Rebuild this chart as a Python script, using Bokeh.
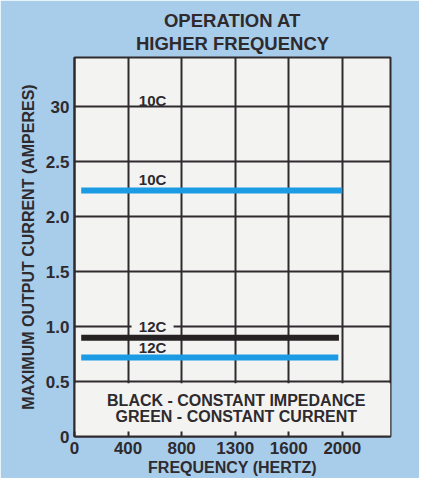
from bokeh.plotting import figure
from bokeh.models import Range1d, FixedTicker, Title
from bokeh.core.properties import value
from bokeh.embed import file_html
from bokeh.resources import INLINE

# ---- data ----
x_ticks = [0, 400, 800, 1200, 1600, 2000]
x_tick_labels = ["0", "400", "800", "1300", "1600", "2000"]
y_ticks = [0, 0.5, 1.0, 1.5, 2.0, 2.5, 3.0]
y_tick_labels = ["0", "0.5", "1.0", "1.5", "2.0", "2.5", "30"]

series_names = ["10C constant current", "12C constant impedance", "12C constant current"]
freq_start = [50, 50, 50]
freq_end = [2000, 1975, 1970]
max_current = [2.24, 0.90, 0.72]

label_texts = ["10C", "10C", "12C", "12C"]
label_freq = [583, 583, 583, 583]
label_current = [3.06, 2.34, 1.0, 0.81]

note_lines = ["BLACK - CONSTANT IMPEDANCE", "GREEN - CONSTANT CURRENT"]
note_freq = [1208, 1208]
note_current = [0.325, 0.18]

title_lines = ["OPERATION AT", "HIGHER FREQUENCY"]

# ---- styles ----
FONT = "Liberation Sans"
INK = "#2e2a2e"
BLUE = "#1a9be3"
BLACK = "#262223"
PANEL = "#f3f3f1"
BG = "#a8cdea"
series_colors = [BLUE, BLACK, BLUE]

p = figure(width=419, height=478, x_range=Range1d(0, 2360), y_range=Range1d(0, 3.45),
           output_backend="svg", toolbar_location=None,
           min_border_left=74, min_border_right=29, min_border_top=57, min_border_bottom=39,
           background_fill_color=PANEL, border_fill_color=BG)

p.outline_line_color = INK
p.outline_line_width = 2
p.outline_line_alpha = 1

p.xgrid.ticker = FixedTicker(ticks=x_ticks)
p.ygrid.ticker = FixedTicker(ticks=y_ticks)
for g in (p.xgrid, p.ygrid):
    g.grid_line_color = INK
    g.grid_line_width = 2
    g.grid_line_alpha = 1

p.xaxis.ticker = FixedTicker(ticks=x_ticks)
p.yaxis.ticker = FixedTicker(ticks=y_ticks)
p.xaxis.major_label_overrides = {t: s for t, s in zip(x_ticks, x_tick_labels)}
p.yaxis.major_label_overrides = {t: s for t, s in zip(y_ticks, y_tick_labels)}

for ax in (p.xaxis, p.yaxis):
    ax.axis_line_color = INK
    ax.axis_line_width = 2
    ax.minor_tick_line_color = None
    ax.major_label_text_font = FONT
    ax.major_label_text_font_style = "bold"
    ax.major_label_text_font_size = "17px"
    ax.major_label_text_color = INK
    ax.axis_label_text_font = FONT
    ax.axis_label_text_font_style = "bold"
    ax.axis_label_text_color = INK

p.xaxis.major_tick_in = 5
p.xaxis.major_tick_out = 0
p.xaxis.major_tick_line_width = 2
p.xaxis.major_tick_line_color = INK
p.yaxis.major_tick_in = 0
p.yaxis.major_tick_out = 0
p.xaxis.major_label_standoff = 5
p.yaxis.major_label_standoff = 5
p.xaxis.axis_label = "FREQUENCY (HERTZ)"
p.yaxis.axis_label = "MAXIMUM OUTPUT CURRENT (AMPERES)"
p.xaxis.axis_label_text_font_size = "16px"
p.yaxis.axis_label_text_font_size = "16px"
p.xaxis.axis_label_standoff = 2
p.yaxis.axis_label_standoff = 6

# titles (second line added first: it sits closest to the frame)
p.add_layout(Title(text=title_lines[1], align="center", text_font=FONT, text_font_style="bold",
                   text_font_size="18.5px", text_color=INK, standoff=4,
                   vertical_align="top"), "above")
p.add_layout(Title(text=title_lines[0], align="center", text_font=FONT, text_font_style="bold",
                   text_font_size="18.5px", text_color=INK, standoff=0,
                   vertical_align="bottom"), "above")

# blank band behind the note
p.quad(left=[0], right=[2360], bottom=[0], top=[0.485], fill_color=PANEL, line_color=None)

# series
p.segment(x0=freq_start, y0=max_current, x1=freq_end, y1=max_current,
          line_color=series_colors, line_width=6, line_cap="butt")

# gap in the 1.0 grid line behind the black-line label
gap_idx = [i for i, c in enumerate(label_current) if abs(c - 1.0) < 0.05]
p.rect(x=[label_freq[i] for i in gap_idx], y=[label_current[i] for i in gap_idx],
       width=42, height=5, width_units="screen", height_units="screen",
       fill_color=PANEL, line_color=None)

# labels
p.text(x=label_freq, y=label_current, text=label_texts, text_align="center",
       text_baseline="middle", text_font=value(FONT), text_font_style="bold",
       text_font_size="15px", text_color=INK)

p.text(x=note_freq, y=note_current, text=note_lines, text_align="center",
       text_baseline="middle", text_font=value(FONT), text_font_style="bold",
       text_font_size="16px", text_color=INK)

open("out.html", "w").write(file_html(p, INLINE))
